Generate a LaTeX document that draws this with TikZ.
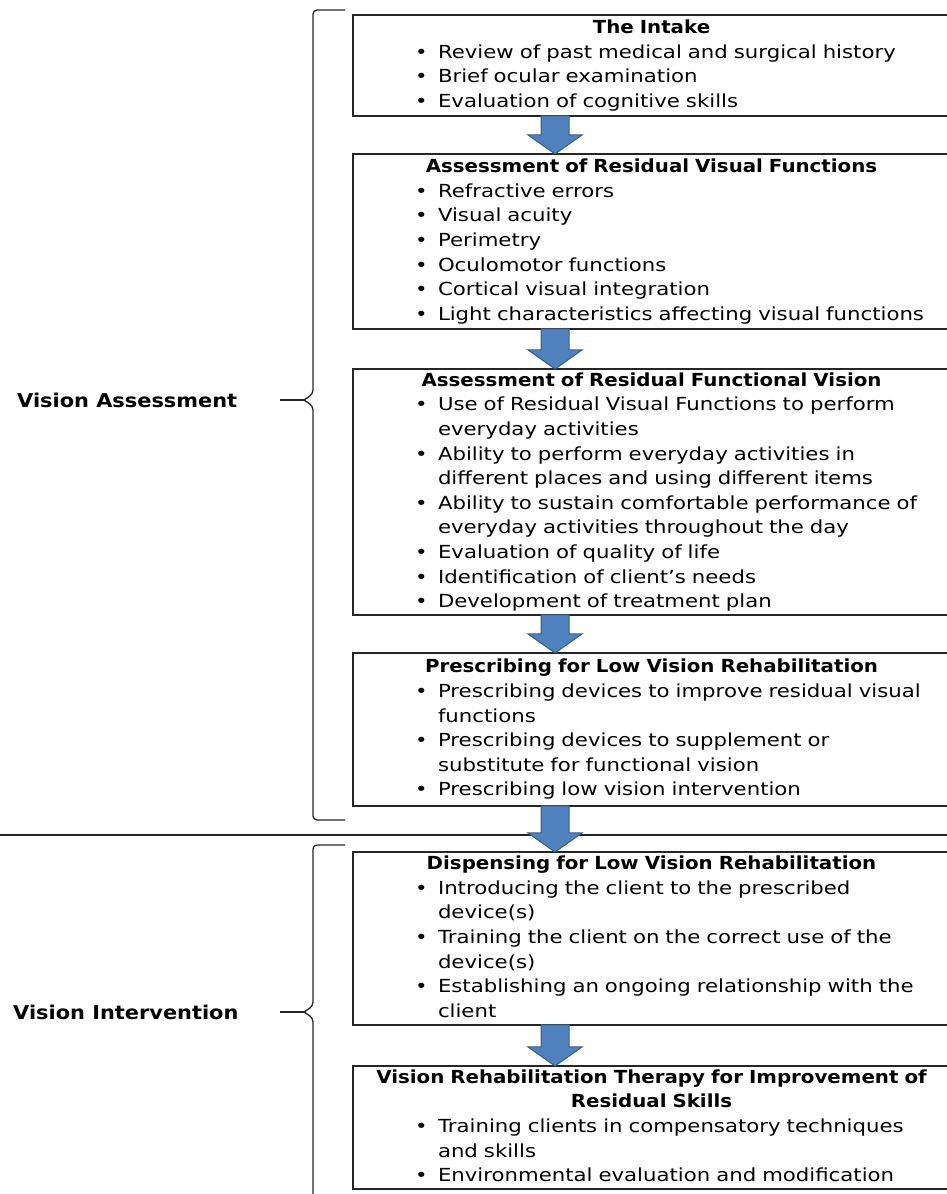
\documentclass[tikz,border=0pt]{standalone}
\usepackage{fontspec}
\newfontfamily\bodyfont{DejaVu Sans}[FakeStretch=1.18]
\newfontfamily\headfont{DejaVu Sans}[FakeStretch=1.1]
\usetikzlibrary{positioning, calc}
\definecolor{arrowfill}{RGB}{79,129,189}
\definecolor{arrowline}{RGB}{56,93,138}
\setlength{\parskip}{0pt}
\newcommand{\bul}[1]{\noindent\makebox[20pt][l]{\hspace{-3pt}\textbullet}\mbox{#1}\strut\par}
\newcommand{\cont}[1]{\noindent\hspace*{20pt}\mbox{#1}\strut\par}
\newcommand{\heading}[1]{\noindent\makebox[\linewidth]{\headfont\bfseries #1\strut}\par}
\newcommand{\flowarrow}[2]{%
  \draw[flow] let \p1=(#1.south west), \p2=(#2.north west) in
    (\x1+188,\y1) -- (\x1+216,\y1) -- (\x1+216,\y2+19) -- (\x1+229,\y2+19)
    -- (\x1+202,\y2) -- (\x1+175,\y2+19) -- (\x1+188,\y2+19) -- cycle;}

\begin{document}
\begin{tikzpicture}[
  x=1pt, y=1pt,
  box/.style={draw=black!85,line width=1.3pt,anchor=north west,minimum width=597pt,text width=467pt,
    inner xsep=0pt,inner ysep=0pt,outer sep=0pt,align=left,font=\bodyfont\fontsize{18}{24.6}\selectfont},
  side/.style={anchor=west,inner sep=0pt,font=\headfont\bfseries\fontsize{19}{23}\selectfont},
  brace/.style={draw=black!85,line width=1.3pt,rounded corners=4pt},
  flow/.style={fill=arrowfill,draw=arrowline,line width=1pt}
]
\useasboundingbox (0,0) rectangle (947,1194);

% the six stages
\node[box,minimum height=101pt] (intake) at (353,1179) {%
  \heading{The Intake}
  \bul{Review of past medical and surgical history}
  \bul{Brief ocular examination}
  \bul{Evaluation of cognitive skills}};
\node[box,minimum height=175pt,below=38pt of intake.south west,anchor=north west] (visfunc) {%
  \heading{Assessment of Residual Visual Functions}
  \bul{Refractive errors}
  \bul{Visual acuity}
  \bul{Perimetry}
  \bul{Oculomotor functions}
  \bul{Cortical visual integration}
  \bul{Light characteristics affecting visual functions}};
\node[box,minimum height=246pt,below=40pt of visfunc.south west,anchor=north west] (funcvis) {%
  \heading{Assessment of Residual Functional Vision}
  \bul{Use of Residual Visual Functions to perform}
  \cont{everyday activities}
  \bul{Ability to perform everyday activities in}
  \cont{different places and using different items}
  \bul{Ability to sustain comfortable performance of}
  \cont{everyday activities throughout the day}
  \bul{Evaluation of quality of life}
  \bul{Identification of client’s needs}
  \bul{Development of treatment plan}};
\node[box,minimum height=153pt,below=38pt of funcvis.south west,anchor=north west] (prescribe) {%
  \heading{Prescribing for Low Vision Rehabilitation}
  \bul{Prescribing devices to improve residual visual}
  \cont{functions}
  \bul{Prescribing devices to supplement or}
  \cont{substitute for functional vision}
  \bul{Prescribing low vision intervention}};
\node[box,minimum height=173pt,below=46pt of prescribe.south west,anchor=north west] (dispense) {%
  \heading{Dispensing for Low Vision Rehabilitation}
  \bul{Introducing the client to the prescribed}
  \cont{device(s)}
  \bul{Training the client on the correct use of the}
  \cont{device(s)}
  \bul{Establishing an ongoing relationship with the}
  \cont{client}};
\node[box,minimum height=123pt,below=41pt of dispense.south west,anchor=north west] (therapy) {%
  \heading{Vision Rehabilitation Therapy for Improvement of}
  \heading{Residual Skills}
  \bul{Training clients in compensatory techniques}
  \cont{and skills}
  \bul{Environmental evaluation and modification}};

% block arrows
\flowarrow{intake}{visfunc}
\flowarrow{visfunc}{funcvis}
\flowarrow{funcvis}{prescribe}
\draw[line width=1.2pt,black!85] (0,359) -- (947,359);
\flowarrow{prescribe}{dispense}
\flowarrow{dispense}{therapy}

% phase labels and braces
\node[side] (assess) at (17,794) {Vision Assessment};
\node[side] (interv) at (13,182) {Vision Intervention};
\draw[brace] (345,1184) -- (313,1184) -- (313,800) -- (304,794);
\draw[brace] (304,794) -- (313,788) -- (313,374) -- (345,374);
\draw[brace] (280,794) -- (306,794);
\draw[brace] (345,349) -- (313,349) -- (313,188) -- (304,182);
\draw[brace] (304,182) -- (313,176) -- (313,-10);
\draw[brace] (280,182) -- (306,182);
\end{tikzpicture}
\end{document}
